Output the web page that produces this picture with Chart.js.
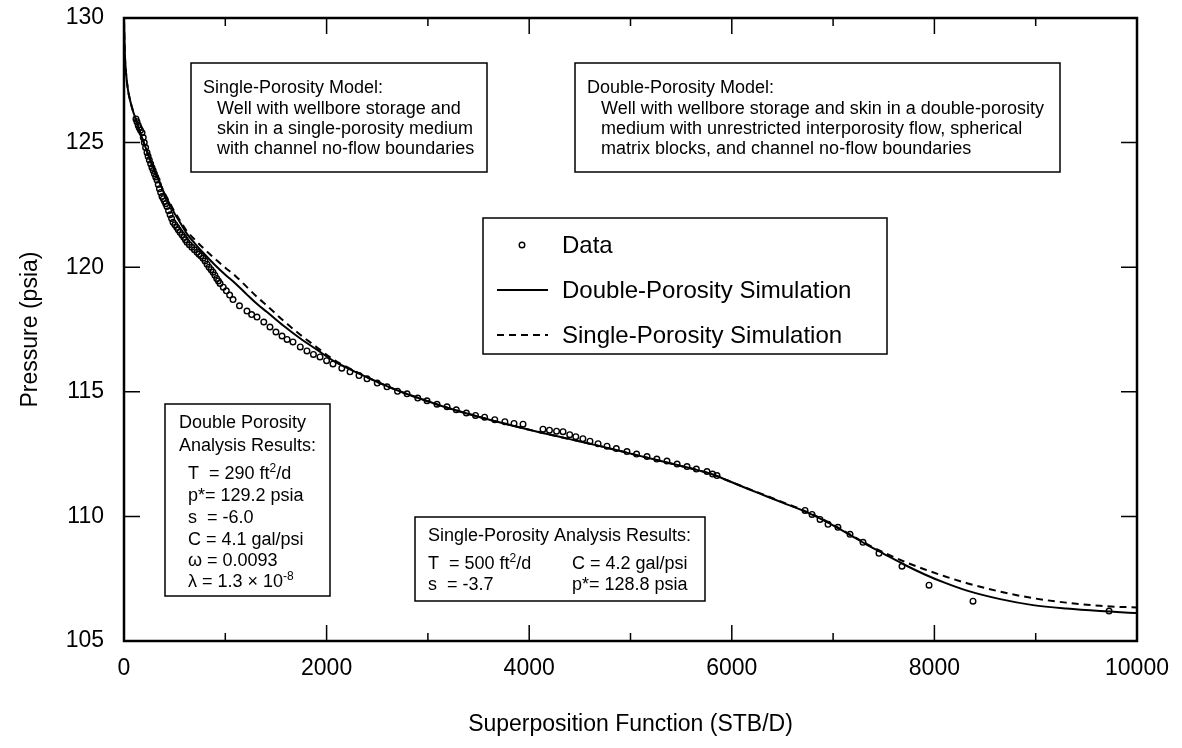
<!DOCTYPE html>
<html>
<head>
<meta charset="utf-8">
<script src="https://cdn.jsdelivr.net/npm/chart.js@4"></script>
<style>
  html, body { margin: 0; padding: 0; background: #fff; }
  #wrap { width: 1182px; height: 748px; }
</style>
</head>
<body>
<div id="wrap"><canvas id="pressureChart" width="1182" height="748"></canvas></div>
<script>
// measured pressures (psia) against superposition function (STB/D)
const dataX = [118, 128, 140, 150, 163, 178, 190, 200, 213, 227, 238, 250, 263, 276, 288, 300, 313, 326, 338, 350,
    362, 375, 388, 400, 412, 424, 440, 455, 470, 484, 502, 520, 536, 553, 572, 590, 606, 622, 645, 670,
    695, 721, 740, 760, 780, 800, 820, 840, 860, 879, 897, 915, 932, 948, 980, 1010, 1043, 1076, 1140, 1214,
    1260, 1313, 1380, 1441, 1500, 1560, 1610, 1668, 1740, 1806, 1870, 1935, 2000, 2063, 2150, 2231, 2320, 2399, 2500, 2596,
    2700, 2794, 2900, 2991, 3090, 3189, 3280, 3380, 3470, 3560, 3660, 3760, 3850, 3939, 4136, 4200, 4270, 4334, 4400, 4460,
    4530, 4600, 4680, 4768, 4860, 4965, 5060, 5163, 5260, 5360, 5460, 5558, 5650, 5755, 5810, 5854, 6723, 6792, 6871, 6950,
    7048, 7167, 7295, 7453, 7680, 7947, 8381, 9724];
const dataP = [125.95, 125.84, 125.7, 125.6, 125.5, 125.4, 125.2, 125.0, 124.8, 124.6, 124.45, 124.3, 124.15, 124.0, 123.88, 123.75, 123.62, 123.5, 123.32, 123.15,
    123.0, 122.84, 122.75, 122.65, 122.55, 122.44, 122.27, 122.1, 121.95, 121.8, 121.7, 121.6, 121.5, 121.4, 121.3, 121.2, 121.1, 121.0, 120.9, 120.8,
    120.7, 120.6, 120.52, 120.45, 120.36, 120.25, 120.12, 120.0, 119.9, 119.8, 119.68, 119.55, 119.45, 119.35, 119.2, 119.05, 118.88, 118.7, 118.45, 118.24,
    118.1, 118.0, 117.8, 117.6, 117.4, 117.24, 117.1, 117.0, 116.8, 116.64, 116.5, 116.4, 116.25, 116.12, 115.95, 115.8, 115.65, 115.52, 115.35, 115.2,
    115.02, 114.92, 114.75, 114.64, 114.5, 114.4, 114.28, 114.15, 114.05, 113.98, 113.88, 113.8, 113.73, 113.7, 113.5, 113.46, 113.42, 113.4, 113.28, 113.2,
    113.12, 113.02, 112.92, 112.82, 112.72, 112.6, 112.5, 112.4, 112.3, 112.22, 112.1, 112.0, 111.9, 111.8, 111.7, 111.64, 110.24, 110.08, 109.88, 109.68,
    109.56, 109.28, 108.96, 108.52, 108.0, 107.24, 106.6, 106.2];

// simulated curves
const simX = [0, 8, 20, 40, 60, 90, 120, 160, 200, 250, 300, 350, 400, 450, 500, 560, 620, 700, 800, 900,
    1000, 1100, 1214, 1320, 1412, 1575, 1737, 1900, 2063, 2230, 2400, 2600, 2800, 3000, 3200, 3500, 3800, 4100, 4400, 4700,
    5000, 5300, 5600, 5800, 5953, 6150, 6347, 6500, 6673, 6850, 7000, 7170, 7335, 7500, 7700, 7900, 8100, 8322, 8650, 8973,
    9300, 9635, 10000];
const doubleP = [129.9, 128.6, 127.8, 127.1, 126.7, 126.25, 125.9, 125.4, 124.95, 124.4, 123.9, 123.4, 122.95, 122.55, 122.15, 121.75, 121.35, 120.95, 120.5, 120.08,
    119.7, 119.35, 118.9, 118.5, 118.2, 117.65, 117.15, 116.7, 116.25, 115.9, 115.58, 115.22, 114.9, 114.62, 114.35, 114.0, 113.68, 113.38, 113.1, 112.82,
    112.52, 112.22, 111.92, 111.7, 111.45, 111.12, 110.8, 110.55, 110.28, 109.96, 109.64, 109.25, 108.86, 108.5, 108.07, 107.68, 107.34, 107.02, 106.68, 106.44,
    106.3, 106.2, 106.12];
const singleP = [129.9, 128.6, 127.8, 127.1, 126.7, 126.25, 125.9, 125.4, 124.95, 124.4, 123.9, 123.42, 122.98, 122.6, 122.22, 121.83, 121.45, 121.1, 120.7, 120.33,
    119.98, 119.65, 119.2, 118.78, 118.45, 117.85, 117.3, 116.8, 116.31, 115.93, 115.59, 115.22, 114.9, 114.62, 114.35, 114.0, 113.68, 113.38, 113.1, 112.82,
    112.52, 112.22, 111.92, 111.7, 111.45, 111.13, 110.82, 110.57, 110.3, 109.98, 109.66, 109.27, 108.89, 108.55, 108.19, 107.88, 107.6, 107.32, 106.98, 106.72,
    106.54, 106.41, 106.34];

const xTicks = [0, 2000, 4000, 6000, 8000, 10000];
const xMinor = [1000, 3000, 5000, 7000, 9000];
const yTicks = [105, 110, 115, 120, 125, 130];

const FONT = '"Liberation Sans", Arial, Helvetica, sans-serif';

function richText(ctx, str, x, y, size) {
    const parts = str.split(/(\^\{[^}]*\})/);
    let cx = x;
    parts.forEach(function (p) {
        if (!p) return;
        if (p.indexOf('^{') === 0) {
            const t = p.slice(2, -1);
            ctx.font = Math.round(size * 0.65) + 'px ' + FONT;
            ctx.fillText(t, cx, y - size * 0.4);
            cx += ctx.measureText(t).width;
        } else {
            ctx.font = size + 'px ' + FONT;
            ctx.fillText(p, cx, y);
            cx += ctx.measureText(p).width;
        }
    });
}

function textBox(ctx, b) {
    ctx.fillStyle = '#fff';
    ctx.fillRect(b.x, b.y, b.w, b.h);
    ctx.strokeStyle = '#000';
    ctx.lineWidth = 1.5;
    ctx.strokeRect(b.x, b.y, b.w, b.h);
    ctx.fillStyle = '#000';
    ctx.textBaseline = 'alphabetic';
    ctx.textAlign = 'left';
    b.lines.forEach(function (l) {
        richText(ctx, l[0], l[1], l[2], 18);
    });
}

const notes = [
    { x: 191, y: 63, w: 296, h: 109, lines: [
        ['Single-Porosity Model:', 203, 93],
        ['Well with wellbore storage and', 217, 114],
        ['skin in a single-porosity medium', 217, 134],
        ['with channel no-flow boundaries', 217, 154]] },
    { x: 575, y: 63, w: 485, h: 109, lines: [
        ['Double-Porosity Model:', 587, 93],
        ['Well with wellbore storage and skin in a double-porosity', 601, 114],
        ['medium with unrestricted interporosity flow, spherical', 601, 134],
        ['matrix blocks, and channel no-flow boundaries', 601, 154]] },
    { x: 165, y: 404, w: 165, h: 192, lines: [
        ['Double Porosity', 179, 428],
        ['Analysis Results:', 179, 451],
        ['T  = 290 ft^{2}/d', 188, 479],
        ['p*= 129.2 psia', 188, 501],
        ['s  = -6.0', 188, 523],
        ['C = 4.1 gal/psi', 188, 545],
        ['\u03c9 = 0.0093', 188, 566],
        ['\u03bb = 1.3 \u00d7 10^{-8}', 188, 587]] },
    { x: 415, y: 517, w: 290, h: 84, lines: [
        ['Single-Porosity Analysis Results:', 428, 541],
        ['T  = 500 ft^{2}/d', 428, 569],
        ['C = 4.2 gal/psi', 572, 569],
        ['s  = -3.7', 428, 590],
        ['p*= 128.8 psia', 572, 590]] }
];

const frameAndNotes = {
    id: 'frameAndNotes',
    afterDraw(chart) {
        const ctx = chart.ctx;
        const xs = chart.scales.x, ys = chart.scales.y;
        const a = chart.chartArea;
        ctx.save();
        ctx.strokeStyle = '#000';
        // inner tick marks on all four sides
        ctx.lineWidth = 1.5;
        ctx.beginPath();
        xTicks.forEach(function (v) {
            const px = xs.getPixelForValue(v);
            ctx.moveTo(px, a.bottom); ctx.lineTo(px, a.bottom - 16);
            ctx.moveTo(px, a.top); ctx.lineTo(px, a.top + 16);
        });
        xMinor.forEach(function (v) {
            const px = xs.getPixelForValue(v);
            ctx.moveTo(px, a.bottom); ctx.lineTo(px, a.bottom - 8);
            ctx.moveTo(px, a.top); ctx.lineTo(px, a.top + 8);
        });
        yTicks.forEach(function (v) {
            const py = ys.getPixelForValue(v);
            ctx.moveTo(a.left, py); ctx.lineTo(a.left + 16, py);
            ctx.moveTo(a.right, py); ctx.lineTo(a.right - 16, py);
        });
        ctx.stroke();
        ctx.lineWidth = 2.5;
        ctx.strokeRect(a.left, a.top, a.right - a.left, a.bottom - a.top);

        notes.forEach(function (b) { textBox(ctx, b); });

        // legend
        const lg = { x: 483, y: 218, w: 404, h: 136 };
        ctx.fillStyle = '#fff';
        ctx.fillRect(lg.x, lg.y, lg.w, lg.h);
        ctx.lineWidth = 1.5;
        ctx.strokeRect(lg.x, lg.y, lg.w, lg.h);
        const ds = chart.data.datasets;
        const rows = [245, 290, 335];
        ctx.font = '24px ' + FONT;
        ctx.textBaseline = 'middle';
        ctx.fillStyle = '#000';
        ds.forEach(function (d, i) {
            const yy = rows[i];
            ctx.beginPath();
            if (d.showLine) {
                ctx.lineWidth = 2;
                ctx.setLineDash(d.borderDash || []);
                ctx.moveTo(497, yy); ctx.lineTo(548, yy);
                ctx.stroke();
                ctx.setLineDash([]);
            } else {
                ctx.lineWidth = 1.4;
                ctx.arc(522, yy, 2.8, 0, Math.PI * 2);
                ctx.stroke();
            }
            ctx.fillText(d.label, 562, yy + 1);
        });
        ctx.restore();
    }
};

function noPad(s) {
    s.paddingTop = 0; s.paddingBottom = 0; s.paddingLeft = 0; s.paddingRight = 0;
}

const config = {
    type: 'scatter',
    data: {
        datasets: [{
            label: 'Data',
            data: dataX.map(function (x, i) { return { x: x, y: dataP[i] }; }),
            showLine: false,
            pointRadius: 2.8,
            pointBorderWidth: 1.4,
            pointBorderColor: '#000',
            pointBackgroundColor: 'rgba(255,255,255,0)',
        }, {
            label: 'Double-Porosity Simulation',
            data: simX.map(function (x, i) { return { x: x, y: doubleP[i] }; }),
            showLine: true,
            pointRadius: 0,
            borderColor: '#000',
            borderWidth: 2,
            cubicInterpolationMode: 'monotone',
        }, {
            label: 'Single-Porosity Simulation',
            data: simX.map(function (x, i) { return { x: x, y: singleP[i] }; }),
            showLine: true,
            pointRadius: 0,
            borderColor: '#000',
            borderWidth: 2,
            borderDash: [7, 5],
            cubicInterpolationMode: 'monotone',
        }],
    },
    options: {
        responsive: false,
        animation: false,
        devicePixelRatio: 1,
        layout: { padding: { left: 0, right: 45, top: 18, bottom: 0 } },
        plugins: { legend: { display: false }, tooltip: { enabled: false } },
        scales: {
            x: {
                type: 'linear',
                min: 0,
                max: 10000,
                afterBuildTicks: function (s) { s.ticks = xTicks.map(function (v) { return { value: v }; }); },
                afterFit: function (s) { s.height = 107; noPad(s); },
                grid: { display: false, drawTicks: false },
                border: { display: false },
                ticks: { color: '#000', padding: 14, maxRotation: 0, font: { family: FONT, size: 23 },
                    callback: function (v) { return String(v); } },
                title: { display: true, text: 'Superposition Function (STB/D)', color: '#000',
                    font: { family: FONT, size: 23 }, padding: { top: 0, bottom: 10 } },
            },
            y: {
                type: 'linear',
                min: 105,
                max: 130,
                afterBuildTicks: function (s) { s.ticks = yTicks.map(function (v) { return { value: v }; }); },
                afterFit: function (s) { s.width = 124; noPad(s); },
                grid: { display: false, drawTicks: false },
                border: { display: false },
                ticks: { color: '#000', padding: 20, font: { family: FONT, size: 23 },
                    callback: function (v) { return String(v); } },
                title: { display: true, text: 'Pressure (psia)', color: '#000',
                    font: { family: FONT, size: 23 }, padding: { top: 17, bottom: 0 } },
            },
        },
    },
    plugins: [frameAndNotes],
};

document.addEventListener('DOMContentLoaded', function () {
    const ctx = document.getElementById('pressureChart').getContext('2d');
    const pressureChart = new Chart(ctx, config);
});
</script>
</body>
</html>
